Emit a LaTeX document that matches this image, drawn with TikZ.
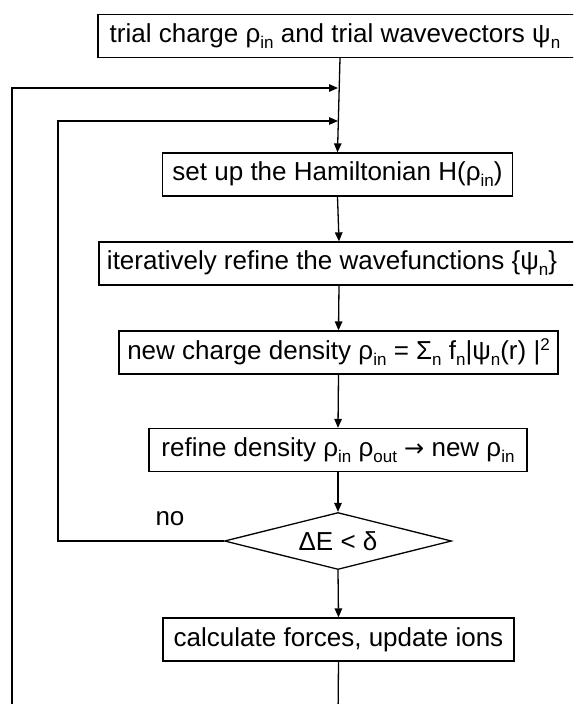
\documentclass[tikz,border=0pt]{standalone}
\usepackage{fontspec}
\setmainfont{Liberation Sans}
\newfontfamily\dejavu{DejaVu Sans}
\usetikzlibrary{shapes.geometric,arrows.meta}
\newcommand\lowidx[1]{\raisebox{-6pt}{\fontsize{17}{18}\selectfont #1}}
\newcommand\highidx[1]{\raisebox{9pt}{\fontsize{17}{18}\selectfont #1}}
\newcommand\rarr{{\fontsize{24}{26}\dejavu →}}
\begin{document}
\begin{tikzpicture}[x=1pt,y=-1pt,
  every node/.style={font=\fontsize{26}{30}\selectfont, inner sep=0pt},
  stepbox/.style={draw, line width=1.3pt, minimum height=43pt, align=center},
  decbox/.style={draw, line width=1.3pt, diamond, aspect=4, minimum width=227pt, minimum height=57pt},
  conn/.style={line width=1.3pt},
  arr/.style={conn, -{Triangle[length=9pt,width=7.5pt]}}]
\clip (0,0) rectangle (573,704);
\fill[white] (0,0) rectangle (573,704);
\node[stepbox, minimum width=484pt] (top) at (340,36) {trial charge ρ\lowidx{in} and trial wavevectors ψ\lowidx{n}\hspace{10pt}};
\node[stepbox, minimum width=350pt] (ham) at (337.5,174.5) {set up the Hamiltonian H(ρ\lowidx{in})};
\node[stepbox, minimum width=480pt] (iter) at (339,263.5) {iteratively refine the wavefunctions \{ψ\lowidx{n}\}\hspace{14pt}};
\node[stepbox, minimum width=439pt] (newc) at (338.5,352.5) {new charge density ρ\lowidx{in} = Σ\lowidx{n} f\lowidx{n}|ψ\lowidx{n}(r) |\highidx{2}};
\node[stepbox, minimum width=378pt] (ref) at (338,450) {refine density ρ\lowidx{in} ρ\lowidx{out} \rarr{} new ρ\lowidx{in}};
\node[decbox] (dec) at (338,541) {ΔE < δ};
\node[stepbox, minimum width=351pt] (calc) at (338.5,639.5) {calculate forces, update ions};
\node (no) at (170,519) {no};
\coordinate (j1) at (338,88);
\coordinate (j2) at (338,121);
\coordinate (bot) at (338,720);
\coordinate (outer) at (12,720);
\coordinate (inner) at (58,541);
\draw[arr] (top.south) -- (ham.north);
\draw[arr] (ham.south) -- (iter.north);
\draw[arr] (iter.south) -- (newc.north);
\draw[arr] (newc.south) -- (ref.north);
\draw[arr] (ref.south) -- (dec.north);
\draw[arr] (dec.south) -- (calc.north);
\draw[conn] (calc.south) -- (bot) -- (outer);
\draw[arr] (outer) |- (j1);
\draw[arr] (dec.west) -- (inner) |- (j2);
\end{tikzpicture}
\end{document}
